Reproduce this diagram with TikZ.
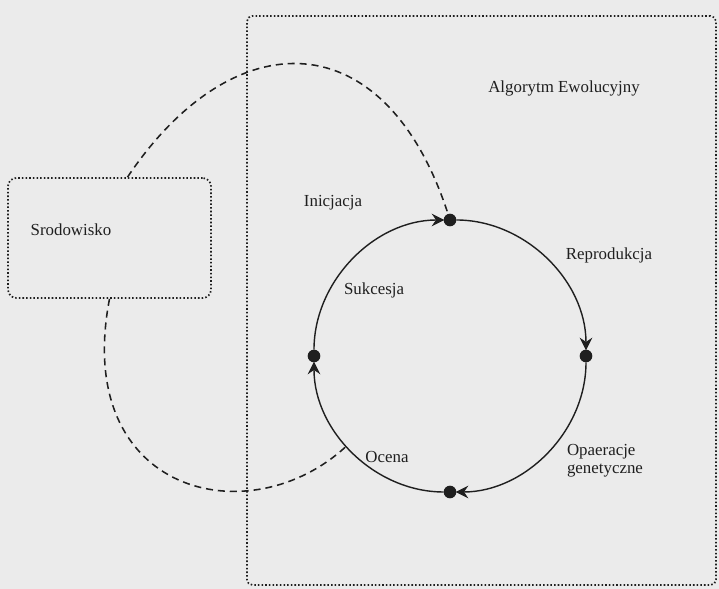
\documentclass[tikz,border=0pt]{standalone}
\usepackage{fontspec}
\setmainfont{Liberation Serif}
\usetikzlibrary{arrows.meta,positioning}
\definecolor{scan}{gray}{0.92}
\definecolor{ink}{gray}{0.12}

\begin{document}
\begin{tikzpicture}[
    x=0.025cm, y=0.025cm, font=\fontsize{12}{13}\selectfont, text=ink, >=Stealth,
    area/.style={draw=ink, line width=1.2pt, dash pattern=on 1.1pt off 1.5pt,
                 rounded corners=#1, inner sep=0pt},
    flow/.style={draw=ink, line width=1.1pt, dash pattern=on 5pt off 3.5pt},
    cyc/.style={draw=ink, line width=1pt, -{Stealth[length=9pt,width=9pt,inset=3pt]},
                shorten >=4pt, shorten <=4.5pt},
    dot/.style={circle, fill=ink, inner sep=0pt, minimum size=9pt},
    lbl/.style={inner sep=0pt, align=left}]
  %% Page
  \fill[scan] (0,0) rectangle (719,589);
  %% Frames
  \node[area=4pt, minimum width=11.725cm, minimum height=14.225cm] (alg) at (481.5,288.5) {};
  \node[area=6pt, minimum width=5.075cm, minimum height=3cm] (env) at (109.5,351) {};
  \node[lbl] (algl) at (564,501) {Algorytm Ewolucyjny};
  \node[lbl] (envl) at (71,359) {Srodowisko};
  %% Cycle points
  \node[dot] (init) at (450,369) {};
  \node[dot] (repr) at (586,233) {};
  \node[dot] (oper) at (450,97) {};
  \node[dot] (sukc) at (314,233) {};
  \coordinate (evalpt) at ([shift={(450,233)}]221:136);
  %% Cycle
  \foreach \n/\a/\b in {sukc/180/90, init/90/0, repr/0/-90, oper/270/180}
    \draw[cyc] (\n.center) arc[start angle=\a, end angle=\b, radius=136];
  %% Environment links
  \draw[flow] ([xshift=0.45cm]env.north) .. controls (233,569) and (385,569) .. (init);
  \draw[flow] (env.south) .. controls (72,95) and (250,52) .. (evalpt);
  %% Labels
  \node[lbl] (initl) at (333,386) {Inicjacja};
  \node[lbl] (reprl) at (609,334) {Reprodukcja};
  \node[lbl] (sukcl) at (374,299) {Sukcesja};
  \node[lbl] (ocenal) at (387,132) {Ocena};
  \node[lbl] (operl) at (605,128) {Opaeracje\\genetyczne};
\end{tikzpicture}
\end{document}
